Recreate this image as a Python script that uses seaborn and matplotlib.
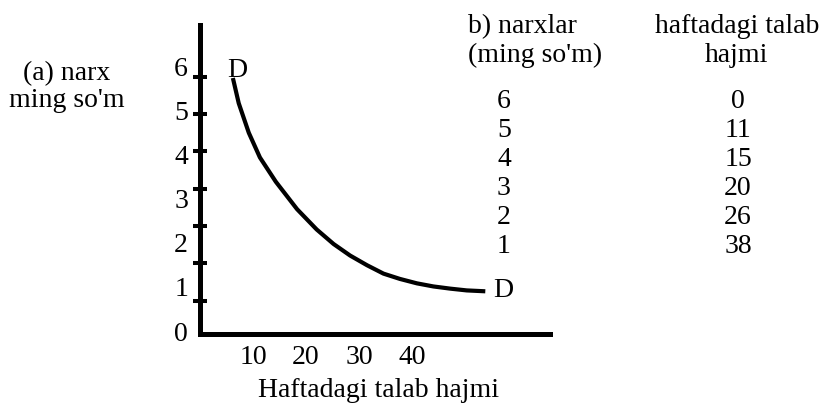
import seaborn as sns
import numpy as np
import matplotlib.pyplot as plt

# egri chiziq (D-D) nuqtalari, rasmdan o'qilgan
curve_q = [6.2, 7.3, 9.2, 11.3, 14.3, 18.3, 22.0, 25.2, 28.3, 31.5, 34.6,
           37.7, 40.9, 44.0, 47.2, 50.3, 53.8]
curve_p = [5.73, 5.16, 4.49, 3.93, 3.38, 2.76, 2.30, 1.97, 1.71, 1.49, 1.30,
           1.18, 1.08, 1.01, 0.96, 0.92, 0.90]

x_ticks = [10, 20, 30, 40, 50]
x_labels = ['10', '20', '30', '40', '']
y_ticks = [0, 1, 2, 3, 4, 5, 6]

# jadval
narxlar = [6, 5, 4, 3, 2, 1]
talab = [0, 11, 15, 20, 26, 38]

sns.set_theme(style='white')
plt.rcParams['font.family'] = ['Liberation Serif', 'DejaVu Serif']
plt.rcParams['text.color'] = 'black'

W, H = 824, 407
fig = plt.figure(figsize=(W / 100, H / 100), dpi=100)
ax = fig.add_axes([200 / W, 1 - 334 / H, 350 / W, 309 / H])

sns.lineplot(x=curve_q, y=curve_p, sort=False, color='black', lw=3, ax=ax,
             solid_joinstyle='round', solid_capstyle='butt')

ax.set_xlim(0, 66)
ax.set_ylim(-0.067, 6.93)
sns.despine(ax=ax)
for s in ['left', 'bottom']:
    ax.spines[s].set_linewidth(3.6)
    ax.spines[s].set_color('black')

fs = 20
ax.set_xticks(x_ticks)
ax.set_xticklabels(x_labels, fontsize=fs)
ax.tick_params(axis='x', direction='inout', length=8.6, width=2.9,
               color='black', pad=3.5, labelcolor='black')

ax.set_yticks(y_ticks)
ax.set_yticklabels([str(v) for v in y_ticks], fontsize=fs)
ax.tick_params(axis='y', which='major', length=0, pad=8.6, labelcolor='black')
ax.set_yticks(np.linspace(0.69, 5.76, 7), minor=True)
ax.tick_params(axis='y', which='minor', direction='inout', length=10,
               width=2.9, color='black', left=True)

ax.set_xlabel('Haftadagi talab hajmi', fontsize=fs, color='black')
ax.xaxis.set_label_coords((379 - 200) / 350, (334 - 397) / 309)
ax.xaxis.label.set_va('baseline')

ax.text(7.0, 5.76, 'D', fontsize=fs, ha='center', va='baseline')
ax.text(57.2, 0.76, 'D', fontsize=fs, ha='center', va='baseline')


def ftext(px, py, s, **kw):
    fig.text(px / W, 1 - py / H, s, fontsize=fs, va='baseline', **kw)


ftext(67, 80, '(a) narx', ha='center')
ftext(67, 107, "ming so'm", ha='center')

ftext(468, 33, 'b) narxlar', ha='left')
ftext(468, 62, "(ming so'm)", ha='left')
ftext(737, 33, 'haftadagi talab', ha='center')
ftext(737, 62, 'hajmi', ha='center')

for i, (p, q) in enumerate(zip(narxlar, talab)):
    ftext(504, 108 + 29 * i, str(p), ha='center')
    ftext(738, 108 + 29 * i, str(q), ha='center')

fig.savefig('out.png', dpi=100)
